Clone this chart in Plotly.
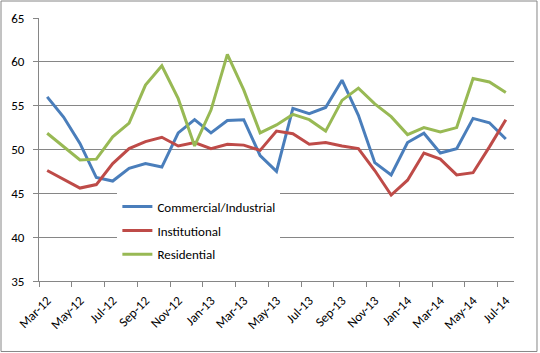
import plotly.graph_objects as go

categories = ["Mar-12","Apr-12","May-12","Jun-12","Jul-12","Aug-12","Sep-12","Oct-12","Nov-12","Dec-12",
              "Jan-13","Feb-13","Mar-13","Apr-13","May-13","Jun-13","Jul-13","Aug-13","Sep-13","Oct-13",
              "Nov-13","Dec-13","Jan-14","Feb-14","Mar-14","Apr-14","May-14","Jun-14","Jul-14"]

commercial = [56.0, 53.7, 50.7, 46.8, 46.4, 47.85, 48.4, 48.0, 51.9, 53.4,
              51.9, 53.3, 53.4, 49.3, 47.5, 54.7, 54.1, 54.8, 57.9, 53.9,
              48.5, 47.1, 50.8, 51.85, 49.6, 50.1, 53.55, 53.05, 51.2]
institutional = [47.6, 46.6, 45.6, 46.0, 48.4, 50.1, 50.9, 51.4, 50.4, 50.8,
                 50.1, 50.6, 50.5, 49.9, 52.1, 51.8, 50.6, 50.8, 50.4, 50.1,
                 47.6, 44.8, 46.5, 49.6, 48.9, 47.1, 47.35, 50.3, 53.4]
residential = [51.85, 50.3, 48.8, 48.9, 51.45, 53.0, 57.35, 59.55, 55.8, 50.4,
               54.5, 60.85, 56.8, 51.9, 52.8, 54.0, 53.4, 52.1, 55.6, 57.0,
               55.2, 53.75, 51.7, 52.5, 52.0, 52.5, 58.1, 57.7, 56.5]

series = [("Commercial/Industrial", commercial, "#4A7EBB"),
          ("Institutional", institutional, "#BE4B48"),
          ("Residential", residential, "#98B954")]

idx = list(range(len(categories)))
FONT = "Carlito, Lato, Liberation Sans, sans-serif"
GRID = "#868686"

fig = go.Figure()
for i, (name, vals, col) in enumerate(series):
    fig.add_trace(go.Scatter(x=idx, y=vals, mode="lines", name=name,
                             legendgroup=str(i),
                             line=dict(color=col, width=3)))

fig.update_layout(
    width=540, height=353,
    margin=dict(l=39, r=26, t=18, b=72),
    paper_bgcolor="white", plot_bgcolor="white",
    font=dict(family=FONT, size=13, color="#000000"),
    showlegend=True,
    legend=dict(x=0.165, y=0.34, xanchor="left", yanchor="top",
                bgcolor="white", borderwidth=0, tracegroupgap=4,
                font=dict(family=FONT, size=13, color="#000000")),
    xaxis=dict(
        range=[-0.5, len(categories) - 0.5],
        tickmode="array", tickvals=idx[::2], ticktext=categories[::2],
        tickangle=-45, ticks="", showgrid=False, zeroline=False,
        showline=True, linecolor=GRID, linewidth=1,
        tickfont=dict(family=FONT, size=13), ticklabelstandoff=6,
        minor=dict(tickmode="array",
                   tickvals=[i - 0.5 for i in idx[::2]],
                   ticks="outside", ticklen=5, tickcolor=GRID, showgrid=False),
        fixedrange=True,
    ),
    yaxis=dict(
        range=[35, 65], dtick=5, tick0=35,
        showgrid=True, gridcolor=GRID, gridwidth=1,
        zeroline=False, showline=True, linecolor=GRID, linewidth=1,
        ticks="outside", ticklen=5, tickcolor=GRID, ticklabelstandoff=6,
        tickfont=dict(family=FONT, size=13),
        fixedrange=True,
    ),
    shapes=[dict(type="rect", xref="paper", yref="paper",
                 x0=-0.08, x1=1.0484, y0=-0.268, y1=1.0646,
                 line=dict(color=GRID, width=1), fillcolor="rgba(0,0,0,0)",
                 layer="below")],
)

fig.write_html("out.html")
